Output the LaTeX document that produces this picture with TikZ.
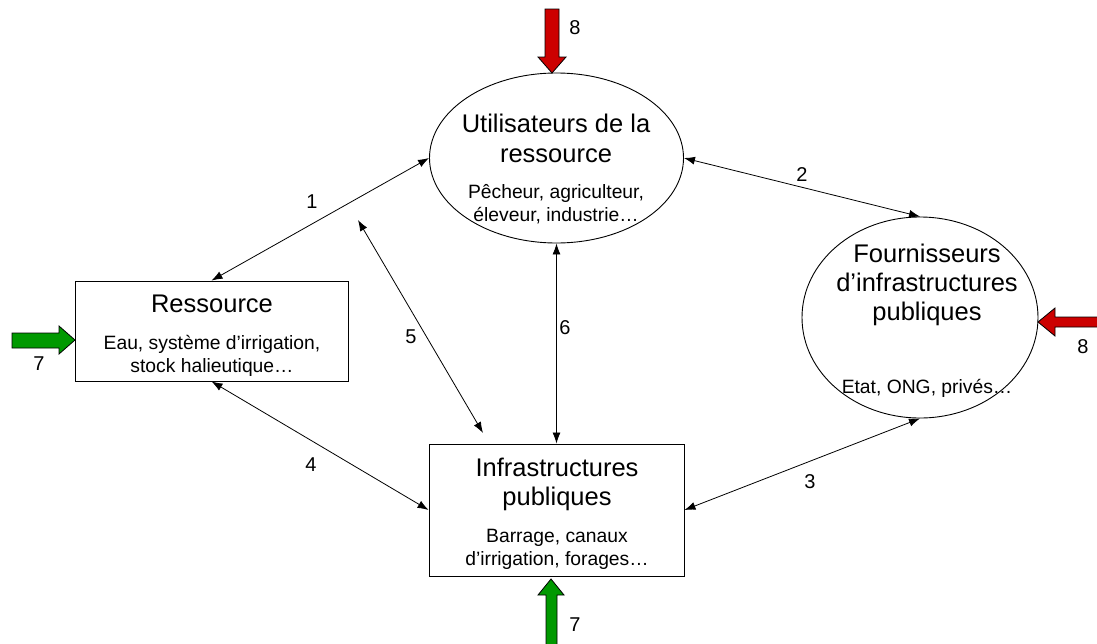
\documentclass[tikz,border=0pt]{standalone}
\usepackage{fontspec}
\setmainfont{Liberation Sans}
\usetikzlibrary{shapes.geometric,arrows.meta}

\begin{document}
\begin{tikzpicture}[x=1pt,y=-1pt,
  outline/.style={draw=black, line width=0.9pt, fill=white, inner sep=0pt},
  ovalnode/.style={outline, ellipse},
  boxnode/.style={outline, rectangle},
  titletext/.style={inner sep=0pt, anchor=base, font=\fontsize{25.5}{30}\selectfont},
  subtext/.style={inner sep=0pt, anchor=base, font=\fontsize{19.3}{23}\selectfont},
  numlabel/.style={inner sep=0pt, font=\fontsize{20}{24}\selectfont},
  link/.style={line width=0.8pt, {Latex[length=11pt,width=8pt]}-{Latex[length=11pt,width=8pt]}},
  blockarrow/.style={line width=0.8pt, draw=black},
]
\useasboundingbox (0,0) rectangle (1097,643);

% actors and resources
\node[ovalnode, minimum width=254pt, minimum height=170pt] (users) at (556.5,158) {};
\node[ovalnode, minimum width=236pt, minimum height=201pt] (providers) at (920,317.5) {};
\node[boxnode, minimum width=273pt, minimum height=100pt] (resource) at (211.5,331) {};
\node[boxnode, minimum width=255pt, minimum height=132pt] (infra) at (556.5,510) {};

% texts of the users
\node[titletext] (usersA) at (556,132) {Utilisateurs de la};
\node[titletext] (usersB) at (556,162) {ressource};
\node[subtext] (usersC) at (556,198) {Pêcheur, agriculteur,};
\node[subtext] (usersD) at (556,221) {éleveur, industrie…};

% texts of the providers
\node[titletext] (provA) at (927,262) {Fournisseurs};
\node[titletext] (provB) at (927,291) {d’infrastructures};
\node[titletext] (provC) at (927,320) {publiques};
\node[subtext] (provD) at (927,393) {Etat, ONG, privés…};

% texts of the resource
\node[titletext] (resA) at (212,312.5) {Ressource};
\node[subtext] (resB) at (212,349) {Eau, système d’irrigation,};
\node[subtext] (resC) at (212,372) {stock halieutique…};

% texts of the public infrastructure
\node[titletext] (infA) at (557,476) {Infrastructures};
\node[titletext] (infB) at (557,505) {publiques};
\node[subtext] (infC) at (557,542.5) {Barrage, canaux};
\node[subtext] (infD) at (557,565.5) {d’irrigation, forages…};

% relations
\coordinate (c5a) at (358,220);
\coordinate (c5b) at (483,433);
\draw[link] (resource.north) -- (users.west);
\draw[link] (users.east) -- (providers.north);
\draw[link] (providers.south) -- (infra.east);
\draw[link] (resource.south) -- (infra.west);
\draw[link] (c5a) -- (c5b);
\draw[link] (users.south) -- (infra.north);

\node[numlabel] (n1) at (312,202) {1};
\node[numlabel] (n2) at (802,175) {2};
\node[numlabel] (n3) at (810,482) {3};
\node[numlabel] (n4) at (311,465) {4};
\node[numlabel] (n5) at (411,337) {5};
\node[numlabel] (n6) at (565,328) {6};

% external inputs
\definecolor{inred}{RGB}{204,0,0}
\definecolor{ingreen}{RGB}{0,153,0}
\draw[blockarrow, fill=ingreen] (12,333) -- (59,333) -- (59,326) -- (75,340) -- (59,354) -- (59,348) -- (12,348) -- cycle;
\draw[blockarrow, fill=inred] (545,9) -- (559,9) -- (559,57) -- (566,57) -- (552,73) -- (538,57) -- (545,57) -- cycle;
\draw[blockarrow, fill=inred] (1100,317) -- (1055,317) -- (1055,308) -- (1038,322) -- (1055,336) -- (1055,327) -- (1100,327);
\draw[blockarrow, fill=ingreen] (546,646) -- (546,595) -- (538,595) -- (551,579) -- (564,595) -- (557,595) -- (557,646);

\node[numlabel] (n7a) at (39,364) {7};
\node[numlabel] (n8a) at (575,28) {8};
\node[numlabel] (n8b) at (1083,347) {8};
\node[numlabel] (n7b) at (575,625) {7};
\end{tikzpicture}
\end{document}
